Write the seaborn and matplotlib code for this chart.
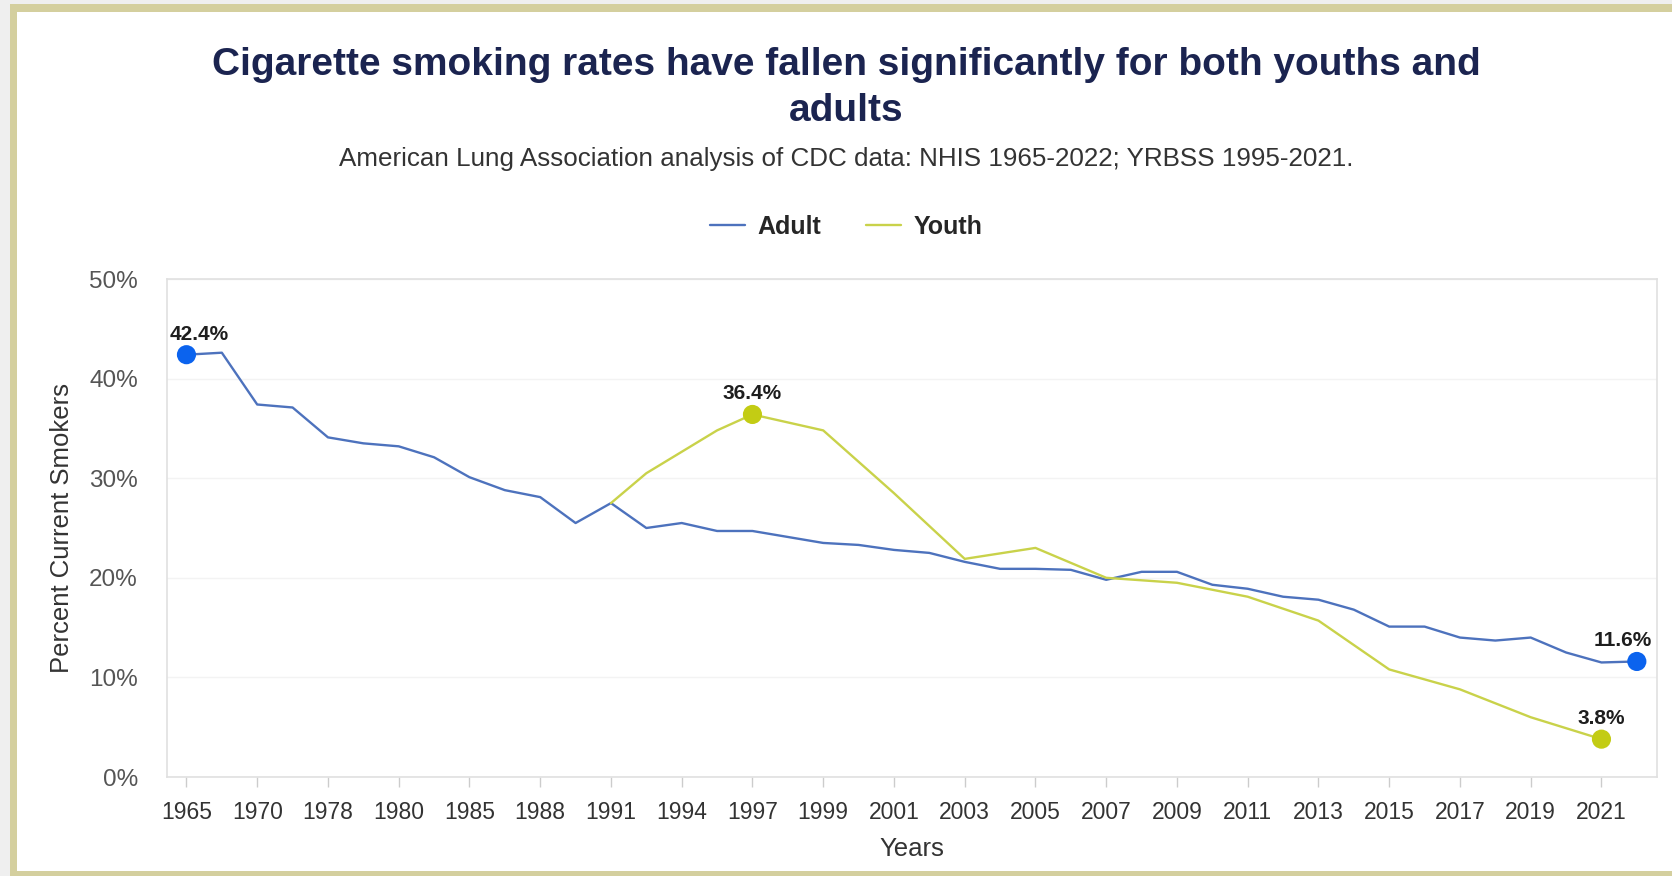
import numpy as np
import pandas as pd
import matplotlib
matplotlib.use("Agg")
import matplotlib.pyplot as plt
from matplotlib.patches import Rectangle
import seaborn as sns

# ---- data ----
years = [1965, 1966, 1970, 1974, 1978, 1979, 1980, 1983, 1985, 1987, 1988,
         1990, 1991, 1993, 1994, 1995, 1997, 1998, 1999, 2000, 2001, 2002,
         2003, 2004, 2005, 2006, 2007, 2008, 2009, 2010, 2011, 2012, 2013,
         2014, 2015, 2016, 2017, 2018, 2019, 2020, 2021, 2022]
adult = [42.4, 42.6, 37.4, 37.1, 34.1, 33.5, 33.2, 32.1, 30.1, 28.8, 28.1,
         25.5, 27.5, 25.0, 25.5, 24.7, 24.7, 24.1, 23.5, 23.3, 22.8, 22.5,
         21.6, 20.9, 20.9, 20.8, 19.8, 20.6, 20.6, 19.3, 18.9, 18.1, 17.8,
         16.8, 15.1, 15.1, 14.0, 13.7, 14.0, 12.5, 11.5, 11.6]
youth_years = [1991, 1993, 1995, 1997, 1999, 2001, 2003, 2005, 2007, 2009,
               2011, 2013, 2015, 2017, 2019, 2021]
youth = [27.5, 30.5, 34.8, 36.4, 34.8, 28.5, 21.9, 23.0, 20.0, 19.5,
         18.1, 15.7, 10.8, 8.8, 6.0, 3.8]
highlight_adult = [1965, 2022]
highlight_youth = [1997, 2021]
yticks = [0, 10, 20, 30, 40, 50]

line_colors = {"Adult": "#4d72bd", "Youth": "#c9d24a"}
marker_colors = {"Adult": "#0b63ee", "Youth": "#c3cc14"}

pos = {y: i for i, y in enumerate(years)}
df = pd.concat([
    pd.DataFrame({"Year": years, "Value": adult, "Series": "Adult"}),
    pd.DataFrame({"Year": youth_years, "Value": youth, "Series": "Youth"}),
], ignore_index=True)
df["pos"] = df["Year"].map(pos)

sns.set_theme(style="white")
plt.rcParams["font.family"] = ["Liberation Sans", "DejaVu Sans"]

fig = plt.figure(figsize=(16.72, 8.76), dpi=100)
fig.patch.set_facecolor("#d4cf9e")
# outer light strips and white card (behind the axes)
fig.patches.append(Rectangle((0, 0), 10 / 1672, 1, transform=fig.transFigure,
                             facecolor="#efefef", edgecolor="none", zorder=-5))
fig.patches.append(Rectangle((0, 1 - 4 / 876), 1, 4 / 876, transform=fig.transFigure,
                             facecolor="#efefef", edgecolor="none", zorder=-5))
fig.patches.append(Rectangle((17 / 1672, 5 / 876), 1, 1 - 17 / 876, transform=fig.transFigure,
                             facecolor="white", edgecolor="none", zorder=-5))

ax = fig.add_axes([167 / 1672, 1 - 777 / 876, 1490 / 1672, 498 / 876])
ax.set_facecolor("white")

sns.lineplot(data=df, x="pos", y="Value", hue="Series", palette=line_colors,
             linewidth=1.7, ax=ax, sort=True, estimator=None)

hl = pd.concat([
    df[(df.Series == "Adult") & df.Year.isin(highlight_adult)],
    df[(df.Series == "Youth") & df.Year.isin(highlight_youth)],
])
sns.scatterplot(data=hl, x="pos", y="Value", hue="Series", palette=marker_colors,
                s=190, edgecolor="none", legend=False, ax=ax, zorder=5)

label_shift = {1965: 9, 2022: -10}
for _, r in hl.iterrows():
    dx = label_shift.get(int(r["Year"]), 0)
    ax.annotate(f"{r['Value']:.1f}%", (r["pos"], r["Value"]), xytext=(dx, 8),
                textcoords="offset points", ha="center", va="bottom",
                fontsize=15, fontweight="bold", color="#1e1e1e", zorder=6)

ax.set_xlim(-0.55, len(years) - 1 + 0.57)
ax.set_ylim(0, 50)
ax.set_yticks(yticks)
ax.set_yticklabels([f"{v}%" for v in yticks])
ax.set_xticks(list(range(0, len(years), 2)))
ax.set_xticklabels([str(y) for y in years[::2]])
ax.tick_params(axis="x", length=7, width=1, color="#cccccc", pad=10.5,
               labelsize=16.5, labelcolor="#333333", bottom=True)
ax.tick_params(axis="y", length=0, pad=21, labelsize=17.5, labelcolor="#555555")

ax.grid(axis="y", color="#f3f3f3", linewidth=1)
ax.grid(axis="x", visible=False)
for s in ax.spines.values():
    s.set_color("#e0e0e0")
    s.set_linewidth(1.2)

ax.set_xlabel("Years", fontsize=18.5, color="#333333")
ax.set_ylabel("Percent Current Smokers", fontsize=18.5, color="#333333")
ax.xaxis.set_label_coords(0.5, -0.12)
ax.yaxis.set_label_coords(-0.0625, 0.5)

sns.move_legend(ax, "center", bbox_to_anchor=((846 - 167) / 1490, (777 - 227) / 498),
                ncol=2, frameon=False, title=None,
                prop={"weight": "bold", "size": 18},
                handlelength=1.4, handletextpad=0.5, columnspacing=1.8)

fig.text(846 / 1672, 1 - 65 / 876,
         "Cigarette smoking rates have fallen significantly for both youths and",
         ha="center", va="center", fontsize=28, fontweight="bold", color="#1b2450")
fig.text(846 / 1672, 1 - 111 / 876, "adults",
         ha="center", va="center", fontsize=28, fontweight="bold", color="#1b2450")
fig.text(846 / 1672, 1 - 159 / 876,
         "American Lung Association analysis of CDC data: NHIS 1965-2022; YRBSS 1995-2021.",
         ha="center", va="center", fontsize=18.7, color="#333333")

fig.savefig("out.png", dpi=100, facecolor=fig.get_facecolor())
